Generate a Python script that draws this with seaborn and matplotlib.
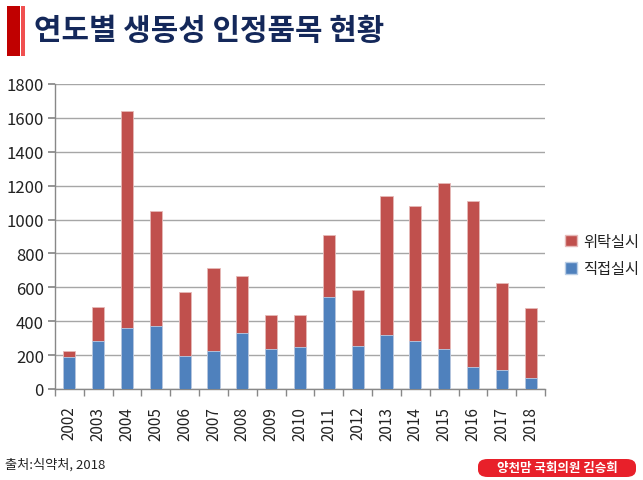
import numpy as np
import pandas as pd
import matplotlib
matplotlib.use("Agg")
import matplotlib.pyplot as plt
from matplotlib.patches import Rectangle, FancyBboxPatch
import seaborn as sns

# 연도별 생동성 인정품목 (위탁실시 / 직접실시)
years = [str(y) for y in range(2002, 2019)]
direct = [191, 281, 358, 370, 193, 222, 330, 238, 246, 543, 252, 321, 285, 238, 130, 110, 65]
total = [226, 486, 1643, 1048, 570, 716, 667, 437, 437, 907, 586, 1141, 1078, 1214, 1109, 625, 480]
consign = [t - d for t, d in zip(total, direct)]

df = pd.DataFrame({"year": years, "direct": direct, "consign": consign, "total": total})

RED = "#C0504D"
BLUE = "#4F81BD"

sns.set_theme(style="white")
plt.rcParams["font.family"] = ["Noto Sans CJK KR", "DejaVu Sans"]

fig = plt.figure(figsize=(6.43, 4.81), dpi=100)
ax = fig.add_axes([55 / 643, 1 - 390 / 481, 490 / 643, 305 / 481])

# stacked bars: total (red) underneath, direct (blue) drawn on top
sns.barplot(data=df, x="year", y="total", color=RED, saturation=1, width=0.42,
            edgecolor="#E6B9B8", linewidth=0.6, ax=ax, zorder=3)
sns.barplot(data=df, x="year", y="direct", color=BLUE, saturation=1, width=0.42,
            edgecolor="#B9CDE5", linewidth=0.6, ax=ax, zorder=4)

ax.set_ylim(0, 1800)
ax.set_xlim(-0.5, len(years) - 0.5)
ax.set_yticks(range(0, 1801, 200))
ax.yaxis.grid(True, color="#A6A6A6", linewidth=1.0, zorder=0)
ax.set_axisbelow(True)
ax.set_xlabel("")
ax.set_ylabel("")
for s in ["top", "right"]:
    ax.spines[s].set_visible(False)
for s in ["left", "bottom"]:
    ax.spines[s].set_color("#888888")
    ax.spines[s].set_linewidth(1.0)

ax.tick_params(axis="y", which="major", left=True, length=5, color="#888888",
               labelsize=12, pad=3, labelcolor="#222222")
ax.tick_params(axis="x", which="major", bottom=False, labelsize=11,
               labelrotation=90, pad=6, labelcolor="#222222")
ax.set_xticks(np.arange(-0.5, len(years), 1.0), minor=True)
ax.tick_params(axis="x", which="minor", bottom=True, length=5, color="#888888")

# legend
handles = [Rectangle((0, 0), 1, 1, facecolor=RED, edgecolor="#E6B9B8"),
           Rectangle((0, 0), 1, 1, facecolor=BLUE, edgecolor="#B9CDE5")]
fig.legend(handles, ["위탁실시", "직접실시"], loc="center left",
           bbox_to_anchor=(554 / 643, 1 - 256 / 481), frameon=False,
           fontsize=11, handlelength=0.8, handleheight=0.8, handletextpad=0.4,
           labelspacing=0.7, labelcolor="#222222", borderpad=0.2)

# title with red bars
fig.patches.append(Rectangle((7 / 643, 1 - 57 / 481), 13 / 643, 50 / 481,
                             transform=fig.transFigure, facecolor="#C00000",
                             edgecolor="none"))
fig.patches.append(Rectangle((21 / 643, 1 - 57 / 481), 3.5 / 643, 50 / 481,
                             transform=fig.transFigure, facecolor="#F05050",
                             edgecolor="none"))
fig.text(34 / 643, 1 - 31 / 481, "연도별 생동성 인정품목 현황", fontsize=21.5,
         fontweight="bold", color="#14285A", va="center", ha="left")

# source
fig.text(5 / 643, 1 - 465 / 481, "출처:식약처, 2018", fontsize=9.5,
         color="#222222", va="center", ha="left")

# badge
fig.patches.append(FancyBboxPatch((478 / 643, 1 - 478 / 481), 158 / 643, 18 / 481,
                                  boxstyle="round,pad=0,rounding_size=0.015",
                                  transform=fig.transFigure, facecolor="#E8202A",
                                  edgecolor="none"))
fig.text(557 / 643, 1 - 469 / 481, "양천맘 국회의원 김승희", fontsize=9,
         fontweight="bold", color="white", va="center", ha="center")

fig.savefig("out.png", dpi=100, facecolor="white")
